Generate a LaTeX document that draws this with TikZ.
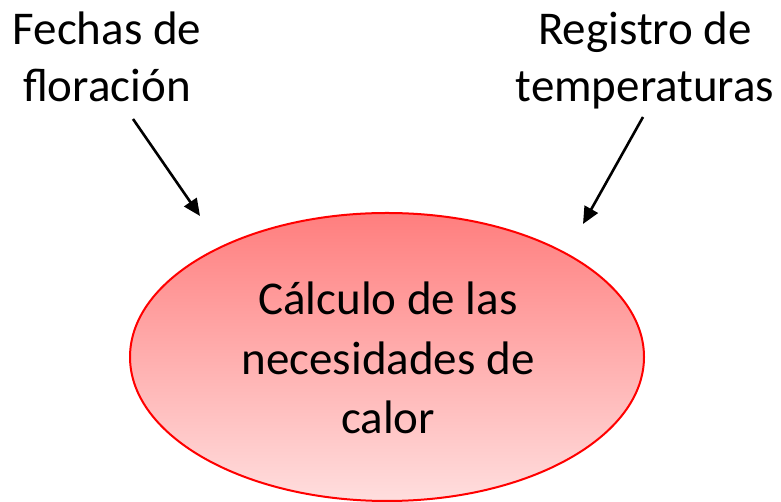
\documentclass[tikz,border=0pt]{standalone}
\usepackage{fontspec}
\setmainfont{Carlito}
\usetikzlibrary{arrows.meta}
\begin{document}
\begin{tikzpicture}[x=1pt,y=1pt,
  lbl/.style={align=center,inner sep=0pt,font=\fontsize{47}{57}\selectfont},
  inlbl/.style={align=center,inner sep=0pt,font=\fontsize{47}{59.5}\selectfont},
  conn/.style={line width=2.6pt,-{Triangle[length=17pt,width=15pt]}}]
\useasboundingbox (0,0) rectangle (781,502);
\shade[top color={rgb,255:red,255;green,126;blue,126},bottom color={rgb,255:red,255;green,222;blue,222}]
  (387,145) ellipse [x radius=257,y radius=144];
\draw[red,line width=2pt] (387,145) ellipse [x radius=257,y radius=144];
\node[inlbl] (calc) at (388,144) {Cálculo de las\\necesidades de\\calor};
\node[lbl] (fechas) at (107,445) {Fechas de\\floración};
\node[lbl] (reg) at (645,441.5) {Registro de\\temperaturas};
\coordinate (fs) at (133,383);
\coordinate (fe) at (200,286);
\coordinate (rs) at (643,385);
\coordinate (re) at (583,278);
\draw[conn] (fs) -- (fe);
\draw[conn] (rs) -- (re);
\end{tikzpicture}
\end{document}
